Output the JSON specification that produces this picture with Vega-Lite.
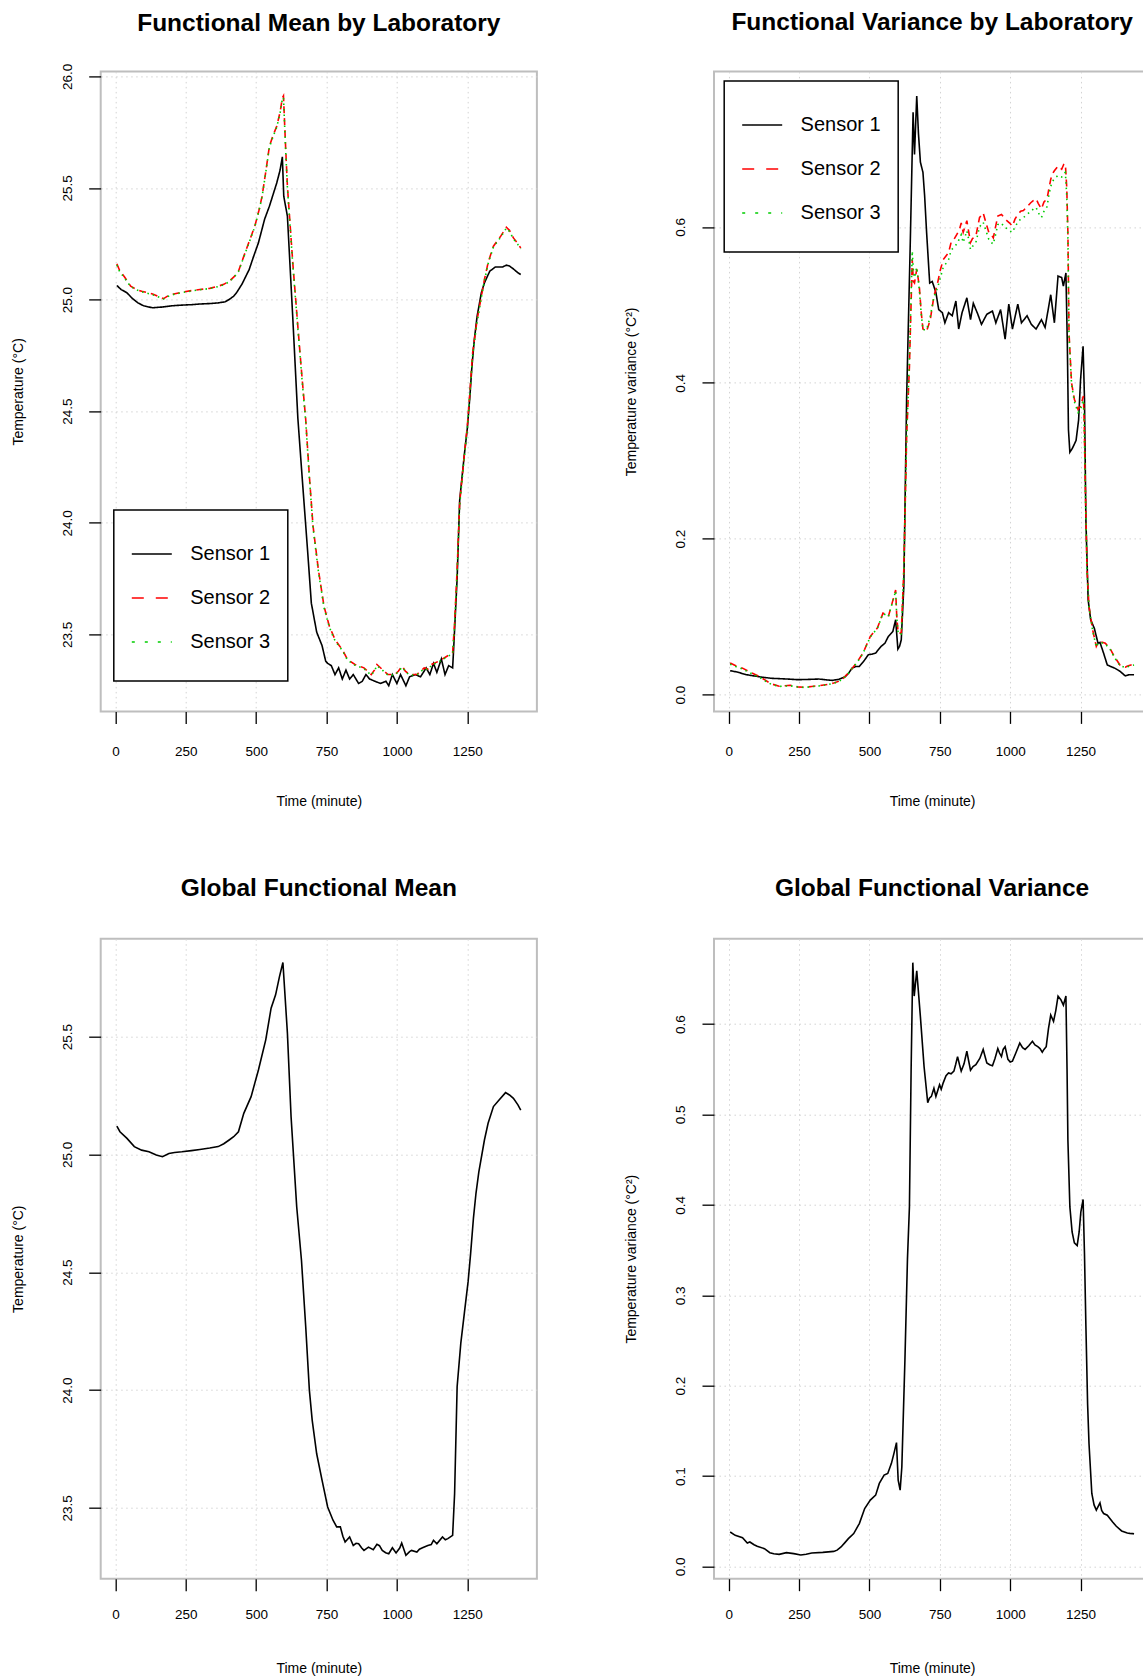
{
  "$schema": "https://vega.github.io/schema/vega-lite/v6.json",
  "padding": {"left": 9.7, "top": 8.4, "right": 0, "bottom": 0},
  "background": "white",
  "config": {
    "font": "Liberation Sans",
    "view": {"stroke": "#bebebe", "strokeWidth": 2},
    "line": {"strokeWidth": 1.6},
    "title": {"font": "Liberation Sans", "fontSize": 24.5, "fontWeight": "bold", "color": "black", "anchor": "middle", "frame": "group", "baseline": "alphabetic"},
    "axis": {"domain": false, "tickColor": "black", "tickWidth": 1.3, "tickSize": 12, "labelFont": "Liberation Sans", "labelFontSize": 13.5, "labelColor": "black", "titleFont": "Liberation Sans", "titleFontSize": 14, "titleFontWeight": "normal", "titleColor": "black", "grid": true, "gridColor": "#d3d3d3", "gridDash": [1.5, 3.5], "gridWidth": 1, "labelFlush": false, "labelOverlap": false},
    "axisX": {"labelBaseline": "alphabetic", "labelPadding": 32.3, "titleX": 218.1, "titleY": 93.7, "titleBaseline": "alphabetic", "titleAlign": "center"},
    "axisY": {"labelAngle": 270, "labelAlign": "center", "labelBaseline": "alphabetic", "labelPadding": 17.2, "titleAngle": 270, "titleX": -78.2, "titleY": 320, "titleAlign": "center", "titleBaseline": "alphabetic"},
    "legend": {"strokeWidth": 1.5}
  },
  "datasets": {
    "lm": [
      {"minute":5,"value":25.063,"sensor":"Sensor 1"},{"minute":20,"value":25.045,"sensor":"Sensor 1"},{"minute":41,"value":25.03,"sensor":"Sensor 1"},{"minute":60,"value":25.005,"sensor":"Sensor 1"},{"minute":80,"value":24.985,"sensor":"Sensor 1"},{"minute":100,"value":24.972,"sensor":"Sensor 1"},{"minute":132,"value":24.963,"sensor":"Sensor 1"},{"minute":171,"value":24.967,"sensor":"Sensor 1"},{"minute":200,"value":24.972,"sensor":"Sensor 1"},{"minute":236,"value":24.975,"sensor":"Sensor 1"},{"minute":270,"value":24.977,"sensor":"Sensor 1"},{"minute":300,"value":24.98,"sensor":"Sensor 1"},{"minute":335,"value":24.982,"sensor":"Sensor 1"},{"minute":365,"value":24.985,"sensor":"Sensor 1"},{"minute":390,"value":24.99,"sensor":"Sensor 1"},{"minute":404,"value":25.0,"sensor":"Sensor 1"},{"minute":420,"value":25.015,"sensor":"Sensor 1"},{"minute":430,"value":25.03,"sensor":"Sensor 1"},{"minute":450,"value":25.07,"sensor":"Sensor 1"},{"minute":475,"value":25.134,"sensor":"Sensor 1"},{"minute":490,"value":25.19,"sensor":"Sensor 1"},{"minute":508,"value":25.254,"sensor":"Sensor 1"},{"minute":530,"value":25.36,"sensor":"Sensor 1"},{"minute":547,"value":25.418,"sensor":"Sensor 1"},{"minute":560,"value":25.47,"sensor":"Sensor 1"},{"minute":573,"value":25.522,"sensor":"Sensor 1"},{"minute":585,"value":25.58,"sensor":"Sensor 1"},{"minute":593,"value":25.639,"sensor":"Sensor 1"},{"minute":598,"value":25.463,"sensor":"Sensor 1"},{"minute":611,"value":25.373,"sensor":"Sensor 1"},{"minute":630,"value":24.92,"sensor":"Sensor 1"},{"minute":648,"value":24.47,"sensor":"Sensor 1"},{"minute":663,"value":24.21,"sensor":"Sensor 1"},{"minute":683,"value":23.87,"sensor":"Sensor 1"},{"minute":696,"value":23.64,"sensor":"Sensor 1"},{"minute":715,"value":23.51,"sensor":"Sensor 1"},{"minute":734,"value":23.45,"sensor":"Sensor 1"},{"minute":747,"value":23.38,"sensor":"Sensor 1"},{"minute":754,"value":23.37,"sensor":"Sensor 1"},{"minute":767,"value":23.36,"sensor":"Sensor 1"},{"minute":780,"value":23.32,"sensor":"Sensor 1"},{"minute":793,"value":23.35,"sensor":"Sensor 1"},{"minute":806,"value":23.3,"sensor":"Sensor 1"},{"minute":819,"value":23.34,"sensor":"Sensor 1"},{"minute":832,"value":23.3,"sensor":"Sensor 1"},{"minute":845,"value":23.32,"sensor":"Sensor 1"},{"minute":864,"value":23.28,"sensor":"Sensor 1"},{"minute":877,"value":23.29,"sensor":"Sensor 1"},{"minute":890,"value":23.32,"sensor":"Sensor 1"},{"minute":903,"value":23.3,"sensor":"Sensor 1"},{"minute":922,"value":23.29,"sensor":"Sensor 1"},{"minute":942,"value":23.28,"sensor":"Sensor 1"},{"minute":961,"value":23.29,"sensor":"Sensor 1"},{"minute":971,"value":23.27,"sensor":"Sensor 1"},{"minute":984,"value":23.32,"sensor":"Sensor 1"},{"minute":1000,"value":23.28,"sensor":"Sensor 1"},{"minute":1013,"value":23.32,"sensor":"Sensor 1"},{"minute":1032,"value":23.27,"sensor":"Sensor 1"},{"minute":1045,"value":23.31,"sensor":"Sensor 1"},{"minute":1065,"value":23.32,"sensor":"Sensor 1"},{"minute":1084,"value":23.31,"sensor":"Sensor 1"},{"minute":1104,"value":23.35,"sensor":"Sensor 1"},{"minute":1117,"value":23.32,"sensor":"Sensor 1"},{"minute":1130,"value":23.37,"sensor":"Sensor 1"},{"minute":1142,"value":23.33,"sensor":"Sensor 1"},{"minute":1158,"value":23.39,"sensor":"Sensor 1"},{"minute":1171,"value":23.32,"sensor":"Sensor 1"},{"minute":1184,"value":23.36,"sensor":"Sensor 1"},{"minute":1198,"value":23.35,"sensor":"Sensor 1"},{"minute":1201,"value":23.42,"sensor":"Sensor 1"},{"minute":1214,"value":23.75,"sensor":"Sensor 1"},{"minute":1223,"value":24.1,"sensor":"Sensor 1"},{"minute":1240,"value":24.31,"sensor":"Sensor 1"},{"minute":1250,"value":24.42,"sensor":"Sensor 1"},{"minute":1259,"value":24.56,"sensor":"Sensor 1"},{"minute":1266,"value":24.69,"sensor":"Sensor 1"},{"minute":1275,"value":24.82,"sensor":"Sensor 1"},{"minute":1285,"value":24.925,"sensor":"Sensor 1"},{"minute":1300,"value":25.03,"sensor":"Sensor 1"},{"minute":1311,"value":25.075,"sensor":"Sensor 1"},{"minute":1330,"value":25.127,"sensor":"Sensor 1"},{"minute":1350,"value":25.146,"sensor":"Sensor 1"},{"minute":1376,"value":25.146,"sensor":"Sensor 1"},{"minute":1389,"value":25.154,"sensor":"Sensor 1"},{"minute":1400,"value":25.15,"sensor":"Sensor 1"},{"minute":1414,"value":25.137,"sensor":"Sensor 1"},{"minute":1430,"value":25.12,"sensor":"Sensor 1"},{"minute":1440,"value":25.112,"sensor":"Sensor 1"},
      {"minute":5,"value":25.16,"sensor":"Sensor 2"},{"minute":15,"value":25.13,"sensor":"Sensor 2"},{"minute":33,"value":25.1,"sensor":"Sensor 2"},{"minute":54,"value":25.06,"sensor":"Sensor 2"},{"minute":75,"value":25.045,"sensor":"Sensor 2"},{"minute":93,"value":25.037,"sensor":"Sensor 2"},{"minute":132,"value":25.025,"sensor":"Sensor 2"},{"minute":150,"value":25.015,"sensor":"Sensor 2"},{"minute":171,"value":25.004,"sensor":"Sensor 2"},{"minute":185,"value":25.015,"sensor":"Sensor 2"},{"minute":197,"value":25.022,"sensor":"Sensor 2"},{"minute":236,"value":25.033,"sensor":"Sensor 2"},{"minute":270,"value":25.04,"sensor":"Sensor 2"},{"minute":300,"value":25.045,"sensor":"Sensor 2"},{"minute":335,"value":25.05,"sensor":"Sensor 2"},{"minute":365,"value":25.06,"sensor":"Sensor 2"},{"minute":385,"value":25.068,"sensor":"Sensor 2"},{"minute":404,"value":25.082,"sensor":"Sensor 2"},{"minute":420,"value":25.1,"sensor":"Sensor 2"},{"minute":437,"value":25.127,"sensor":"Sensor 2"},{"minute":455,"value":25.19,"sensor":"Sensor 2"},{"minute":469,"value":25.239,"sensor":"Sensor 2"},{"minute":495,"value":25.328,"sensor":"Sensor 2"},{"minute":510,"value":25.4,"sensor":"Sensor 2"},{"minute":521,"value":25.463,"sensor":"Sensor 2"},{"minute":535,"value":25.58,"sensor":"Sensor 2"},{"minute":547,"value":25.687,"sensor":"Sensor 2"},{"minute":560,"value":25.735,"sensor":"Sensor 2"},{"minute":573,"value":25.776,"sensor":"Sensor 2"},{"minute":585,"value":25.84,"sensor":"Sensor 2"},{"minute":593,"value":25.903,"sensor":"Sensor 2"},{"minute":597,"value":25.912,"sensor":"Sensor 2"},{"minute":604,"value":25.7,"sensor":"Sensor 2"},{"minute":611,"value":25.507,"sensor":"Sensor 2"},{"minute":631,"value":25.149,"sensor":"Sensor 2"},{"minute":650,"value":24.85,"sensor":"Sensor 2"},{"minute":663,"value":24.65,"sensor":"Sensor 2"},{"minute":676,"value":24.463,"sensor":"Sensor 2"},{"minute":689,"value":24.21,"sensor":"Sensor 2"},{"minute":702,"value":23.986,"sensor":"Sensor 2"},{"minute":721,"value":23.79,"sensor":"Sensor 2"},{"minute":741,"value":23.626,"sensor":"Sensor 2"},{"minute":760,"value":23.537,"sensor":"Sensor 2"},{"minute":780,"value":23.477,"sensor":"Sensor 2"},{"minute":795,"value":23.45,"sensor":"Sensor 2"},{"minute":806,"value":23.432,"sensor":"Sensor 2"},{"minute":825,"value":23.387,"sensor":"Sensor 2"},{"minute":851,"value":23.365,"sensor":"Sensor 2"},{"minute":883,"value":23.35,"sensor":"Sensor 2"},{"minute":900,"value":23.33,"sensor":"Sensor 2"},{"minute":909,"value":23.32,"sensor":"Sensor 2"},{"minute":920,"value":23.34,"sensor":"Sensor 2"},{"minute":929,"value":23.365,"sensor":"Sensor 2"},{"minute":948,"value":23.343,"sensor":"Sensor 2"},{"minute":968,"value":23.32,"sensor":"Sensor 2"},{"minute":993,"value":23.32,"sensor":"Sensor 2"},{"minute":1005,"value":23.335,"sensor":"Sensor 2"},{"minute":1019,"value":23.358,"sensor":"Sensor 2"},{"minute":1030,"value":23.335,"sensor":"Sensor 2"},{"minute":1045,"value":23.32,"sensor":"Sensor 2"},{"minute":1071,"value":23.32,"sensor":"Sensor 2"},{"minute":1097,"value":23.35,"sensor":"Sensor 2"},{"minute":1110,"value":23.345,"sensor":"Sensor 2"},{"minute":1123,"value":23.365,"sensor":"Sensor 2"},{"minute":1149,"value":23.38,"sensor":"Sensor 2"},{"minute":1175,"value":23.4,"sensor":"Sensor 2"},{"minute":1198,"value":23.417,"sensor":"Sensor 2"},{"minute":1205,"value":23.55,"sensor":"Sensor 2"},{"minute":1214,"value":23.79,"sensor":"Sensor 2"},{"minute":1223,"value":24.09,"sensor":"Sensor 2"},{"minute":1240,"value":24.31,"sensor":"Sensor 2"},{"minute":1250,"value":24.43,"sensor":"Sensor 2"},{"minute":1259,"value":24.58,"sensor":"Sensor 2"},{"minute":1269,"value":24.76,"sensor":"Sensor 2"},{"minute":1285,"value":24.91,"sensor":"Sensor 2"},{"minute":1298,"value":25.0,"sensor":"Sensor 2"},{"minute":1311,"value":25.09,"sensor":"Sensor 2"},{"minute":1325,"value":25.17,"sensor":"Sensor 2"},{"minute":1343,"value":25.239,"sensor":"Sensor 2"},{"minute":1369,"value":25.284,"sensor":"Sensor 2"},{"minute":1389,"value":25.324,"sensor":"Sensor 2"},{"minute":1400,"value":25.31,"sensor":"Sensor 2"},{"minute":1414,"value":25.276,"sensor":"Sensor 2"},{"minute":1430,"value":25.25,"sensor":"Sensor 2"},{"minute":1440,"value":25.231,"sensor":"Sensor 2"},
      {"minute":5,"value":25.155,"sensor":"Sensor 3"},{"minute":15,"value":25.125,"sensor":"Sensor 3"},{"minute":33,"value":25.095,"sensor":"Sensor 3"},{"minute":54,"value":25.058,"sensor":"Sensor 3"},{"minute":75,"value":25.043,"sensor":"Sensor 3"},{"minute":93,"value":25.035,"sensor":"Sensor 3"},{"minute":132,"value":25.022,"sensor":"Sensor 3"},{"minute":150,"value":25.013,"sensor":"Sensor 3"},{"minute":171,"value":25.003,"sensor":"Sensor 3"},{"minute":185,"value":25.013,"sensor":"Sensor 3"},{"minute":197,"value":25.02,"sensor":"Sensor 3"},{"minute":236,"value":25.031,"sensor":"Sensor 3"},{"minute":270,"value":25.038,"sensor":"Sensor 3"},{"minute":300,"value":25.044,"sensor":"Sensor 3"},{"minute":335,"value":25.049,"sensor":"Sensor 3"},{"minute":365,"value":25.058,"sensor":"Sensor 3"},{"minute":385,"value":25.066,"sensor":"Sensor 3"},{"minute":404,"value":25.08,"sensor":"Sensor 3"},{"minute":420,"value":25.098,"sensor":"Sensor 3"},{"minute":437,"value":25.125,"sensor":"Sensor 3"},{"minute":455,"value":25.187,"sensor":"Sensor 3"},{"minute":469,"value":25.235,"sensor":"Sensor 3"},{"minute":495,"value":25.325,"sensor":"Sensor 3"},{"minute":510,"value":25.398,"sensor":"Sensor 3"},{"minute":521,"value":25.46,"sensor":"Sensor 3"},{"minute":535,"value":25.577,"sensor":"Sensor 3"},{"minute":547,"value":25.683,"sensor":"Sensor 3"},{"minute":560,"value":25.73,"sensor":"Sensor 3"},{"minute":573,"value":25.772,"sensor":"Sensor 3"},{"minute":585,"value":25.835,"sensor":"Sensor 3"},{"minute":593,"value":25.898,"sensor":"Sensor 3"},{"minute":597,"value":25.905,"sensor":"Sensor 3"},{"minute":604,"value":25.69,"sensor":"Sensor 3"},{"minute":611,"value":25.5,"sensor":"Sensor 3"},{"minute":631,"value":25.14,"sensor":"Sensor 3"},{"minute":650,"value":24.84,"sensor":"Sensor 3"},{"minute":663,"value":24.64,"sensor":"Sensor 3"},{"minute":676,"value":24.455,"sensor":"Sensor 3"},{"minute":689,"value":24.2,"sensor":"Sensor 3"},{"minute":702,"value":23.978,"sensor":"Sensor 3"},{"minute":721,"value":23.783,"sensor":"Sensor 3"},{"minute":741,"value":23.62,"sensor":"Sensor 3"},{"minute":760,"value":23.532,"sensor":"Sensor 3"},{"minute":780,"value":23.472,"sensor":"Sensor 3"},{"minute":795,"value":23.446,"sensor":"Sensor 3"},{"minute":806,"value":23.428,"sensor":"Sensor 3"},{"minute":825,"value":23.384,"sensor":"Sensor 3"},{"minute":851,"value":23.362,"sensor":"Sensor 3"},{"minute":883,"value":23.347,"sensor":"Sensor 3"},{"minute":900,"value":23.327,"sensor":"Sensor 3"},{"minute":909,"value":23.318,"sensor":"Sensor 3"},{"minute":920,"value":23.336,"sensor":"Sensor 3"},{"minute":929,"value":23.36,"sensor":"Sensor 3"},{"minute":948,"value":23.34,"sensor":"Sensor 3"},{"minute":968,"value":23.318,"sensor":"Sensor 3"},{"minute":993,"value":23.318,"sensor":"Sensor 3"},{"minute":1005,"value":23.333,"sensor":"Sensor 3"},{"minute":1019,"value":23.354,"sensor":"Sensor 3"},{"minute":1030,"value":23.333,"sensor":"Sensor 3"},{"minute":1045,"value":23.318,"sensor":"Sensor 3"},{"minute":1071,"value":23.318,"sensor":"Sensor 3"},{"minute":1097,"value":23.347,"sensor":"Sensor 3"},{"minute":1110,"value":23.342,"sensor":"Sensor 3"},{"minute":1123,"value":23.362,"sensor":"Sensor 3"},{"minute":1149,"value":23.377,"sensor":"Sensor 3"},{"minute":1175,"value":23.397,"sensor":"Sensor 3"},{"minute":1198,"value":23.414,"sensor":"Sensor 3"},{"minute":1205,"value":23.54,"sensor":"Sensor 3"},{"minute":1214,"value":23.78,"sensor":"Sensor 3"},{"minute":1223,"value":24.08,"sensor":"Sensor 3"},{"minute":1240,"value":24.3,"sensor":"Sensor 3"},{"minute":1250,"value":24.42,"sensor":"Sensor 3"},{"minute":1259,"value":24.57,"sensor":"Sensor 3"},{"minute":1269,"value":24.75,"sensor":"Sensor 3"},{"minute":1285,"value":24.9,"sensor":"Sensor 3"},{"minute":1298,"value":24.995,"sensor":"Sensor 3"},{"minute":1311,"value":25.085,"sensor":"Sensor 3"},{"minute":1325,"value":25.165,"sensor":"Sensor 3"},{"minute":1343,"value":25.235,"sensor":"Sensor 3"},{"minute":1369,"value":25.28,"sensor":"Sensor 3"},{"minute":1389,"value":25.32,"sensor":"Sensor 3"},{"minute":1400,"value":25.305,"sensor":"Sensor 3"},{"minute":1414,"value":25.272,"sensor":"Sensor 3"},{"minute":1430,"value":25.246,"sensor":"Sensor 3"},{"minute":1440,"value":25.227,"sensor":"Sensor 3"}
    ],
    "lv": [
      {"minute":5,"value":0.0307,"sensor":"Sensor 1"},{"minute":30,"value":0.029,"sensor":"Sensor 1"},{"minute":62,"value":0.0256,"sensor":"Sensor 1"},{"minute":90,"value":0.024,"sensor":"Sensor 1"},{"minute":114,"value":0.0226,"sensor":"Sensor 1"},{"minute":150,"value":0.021,"sensor":"Sensor 1"},{"minute":179,"value":0.0205,"sensor":"Sensor 1"},{"minute":210,"value":0.02,"sensor":"Sensor 1"},{"minute":244,"value":0.0192,"sensor":"Sensor 1"},{"minute":280,"value":0.0195,"sensor":"Sensor 1"},{"minute":321,"value":0.02,"sensor":"Sensor 1"},{"minute":345,"value":0.019,"sensor":"Sensor 1"},{"minute":367,"value":0.0183,"sensor":"Sensor 1"},{"minute":390,"value":0.0195,"sensor":"Sensor 1"},{"minute":412,"value":0.0226,"sensor":"Sensor 1"},{"minute":425,"value":0.027,"sensor":"Sensor 1"},{"minute":438,"value":0.034,"sensor":"Sensor 1"},{"minute":451,"value":0.036,"sensor":"Sensor 1"},{"minute":464,"value":0.0362,"sensor":"Sensor 1"},{"minute":480,"value":0.043,"sensor":"Sensor 1"},{"minute":496,"value":0.0512,"sensor":"Sensor 1"},{"minute":510,"value":0.052,"sensor":"Sensor 1"},{"minute":522,"value":0.0533,"sensor":"Sensor 1"},{"minute":541,"value":0.0618,"sensor":"Sensor 1"},{"minute":555,"value":0.066,"sensor":"Sensor 1"},{"minute":567,"value":0.0746,"sensor":"Sensor 1"},{"minute":583,"value":0.081,"sensor":"Sensor 1"},{"minute":593,"value":0.096,"sensor":"Sensor 1"},{"minute":601,"value":0.0584,"sensor":"Sensor 1"},{"minute":607,"value":0.062,"sensor":"Sensor 1"},{"minute":613,"value":0.0704,"sensor":"Sensor 1"},{"minute":622,"value":0.1386,"sensor":"Sensor 1"},{"minute":632,"value":0.38,"sensor":"Sensor 1"},{"minute":645,"value":0.58,"sensor":"Sensor 1"},{"minute":655,"value":0.747,"sensor":"Sensor 1"},{"minute":660,"value":0.693,"sensor":"Sensor 1"},{"minute":668,"value":0.768,"sensor":"Sensor 1"},{"minute":674,"value":0.72,"sensor":"Sensor 1"},{"minute":681,"value":0.683,"sensor":"Sensor 1"},{"minute":690,"value":0.67,"sensor":"Sensor 1"},{"minute":696,"value":0.64,"sensor":"Sensor 1"},{"minute":703,"value":0.593,"sensor":"Sensor 1"},{"minute":714,"value":0.528,"sensor":"Sensor 1"},{"minute":723,"value":0.53,"sensor":"Sensor 1"},{"minute":736,"value":0.516,"sensor":"Sensor 1"},{"minute":746,"value":0.494,"sensor":"Sensor 1"},{"minute":759,"value":0.49,"sensor":"Sensor 1"},{"minute":768,"value":0.477,"sensor":"Sensor 1"},{"minute":781,"value":0.49,"sensor":"Sensor 1"},{"minute":794,"value":0.486,"sensor":"Sensor 1"},{"minute":807,"value":0.505,"sensor":"Sensor 1"},{"minute":817,"value":0.469,"sensor":"Sensor 1"},{"minute":829,"value":0.49,"sensor":"Sensor 1"},{"minute":846,"value":0.509,"sensor":"Sensor 1"},{"minute":859,"value":0.481,"sensor":"Sensor 1"},{"minute":869,"value":0.502,"sensor":"Sensor 1"},{"minute":885,"value":0.488,"sensor":"Sensor 1"},{"minute":898,"value":0.475,"sensor":"Sensor 1"},{"minute":917,"value":0.488,"sensor":"Sensor 1"},{"minute":937,"value":0.492,"sensor":"Sensor 1"},{"minute":949,"value":0.477,"sensor":"Sensor 1"},{"minute":966,"value":0.494,"sensor":"Sensor 1"},{"minute":982,"value":0.456,"sensor":"Sensor 1"},{"minute":995,"value":0.501,"sensor":"Sensor 1"},{"minute":1008,"value":0.469,"sensor":"Sensor 1"},{"minute":1027,"value":0.501,"sensor":"Sensor 1"},{"minute":1040,"value":0.477,"sensor":"Sensor 1"},{"minute":1060,"value":0.486,"sensor":"Sensor 1"},{"minute":1075,"value":0.475,"sensor":"Sensor 1"},{"minute":1092,"value":0.469,"sensor":"Sensor 1"},{"minute":1111,"value":0.481,"sensor":"Sensor 1"},{"minute":1124,"value":0.471,"sensor":"Sensor 1"},{"minute":1144,"value":0.513,"sensor":"Sensor 1"},{"minute":1157,"value":0.477,"sensor":"Sensor 1"},{"minute":1170,"value":0.537,"sensor":"Sensor 1"},{"minute":1183,"value":0.535,"sensor":"Sensor 1"},{"minute":1189,"value":0.524,"sensor":"Sensor 1"},{"minute":1198,"value":0.541,"sensor":"Sensor 1"},{"minute":1203,"value":0.45,"sensor":"Sensor 1"},{"minute":1207,"value":0.34,"sensor":"Sensor 1"},{"minute":1212,"value":0.311,"sensor":"Sensor 1"},{"minute":1221,"value":0.316,"sensor":"Sensor 1"},{"minute":1234,"value":0.326,"sensor":"Sensor 1"},{"minute":1243,"value":0.352,"sensor":"Sensor 1"},{"minute":1250,"value":0.404,"sensor":"Sensor 1"},{"minute":1259,"value":0.447,"sensor":"Sensor 1"},{"minute":1264,"value":0.379,"sensor":"Sensor 1"},{"minute":1269,"value":0.224,"sensor":"Sensor 1"},{"minute":1277,"value":0.1215,"sensor":"Sensor 1"},{"minute":1286,"value":0.096,"sensor":"Sensor 1"},{"minute":1299,"value":0.085,"sensor":"Sensor 1"},{"minute":1312,"value":0.066,"sensor":"Sensor 1"},{"minute":1319,"value":0.067,"sensor":"Sensor 1"},{"minute":1332,"value":0.053,"sensor":"Sensor 1"},{"minute":1345,"value":0.038,"sensor":"Sensor 1"},{"minute":1371,"value":0.034,"sensor":"Sensor 1"},{"minute":1390,"value":0.03,"sensor":"Sensor 1"},{"minute":1409,"value":0.024,"sensor":"Sensor 1"},{"minute":1422,"value":0.0256,"sensor":"Sensor 1"},{"minute":1440,"value":0.0256,"sensor":"Sensor 1"},
      {"minute":5,"value":0.0405,"sensor":"Sensor 2"},{"minute":25,"value":0.037,"sensor":"Sensor 2"},{"minute":49,"value":0.034,"sensor":"Sensor 2"},{"minute":70,"value":0.03,"sensor":"Sensor 2"},{"minute":88,"value":0.0269,"sensor":"Sensor 2"},{"minute":110,"value":0.023,"sensor":"Sensor 2"},{"minute":127,"value":0.0192,"sensor":"Sensor 2"},{"minute":150,"value":0.014,"sensor":"Sensor 2"},{"minute":179,"value":0.0107,"sensor":"Sensor 2"},{"minute":200,"value":0.0115,"sensor":"Sensor 2"},{"minute":218,"value":0.012,"sensor":"Sensor 2"},{"minute":245,"value":0.01,"sensor":"Sensor 2"},{"minute":269,"value":0.0094,"sensor":"Sensor 2"},{"minute":295,"value":0.0105,"sensor":"Sensor 2"},{"minute":321,"value":0.0115,"sensor":"Sensor 2"},{"minute":350,"value":0.013,"sensor":"Sensor 2"},{"minute":373,"value":0.0149,"sensor":"Sensor 2"},{"minute":390,"value":0.017,"sensor":"Sensor 2"},{"minute":405,"value":0.02,"sensor":"Sensor 2"},{"minute":425,"value":0.028,"sensor":"Sensor 2"},{"minute":444,"value":0.0362,"sensor":"Sensor 2"},{"minute":460,"value":0.044,"sensor":"Sensor 2"},{"minute":477,"value":0.0533,"sensor":"Sensor 2"},{"minute":490,"value":0.064,"sensor":"Sensor 2"},{"minute":503,"value":0.0746,"sensor":"Sensor 2"},{"minute":515,"value":0.08,"sensor":"Sensor 2"},{"minute":528,"value":0.0853,"sensor":"Sensor 2"},{"minute":538,"value":0.095,"sensor":"Sensor 2"},{"minute":548,"value":0.1045,"sensor":"Sensor 2"},{"minute":557,"value":0.103,"sensor":"Sensor 2"},{"minute":567,"value":0.1002,"sensor":"Sensor 2"},{"minute":577,"value":0.113,"sensor":"Sensor 2"},{"minute":587,"value":0.1258,"sensor":"Sensor 2"},{"minute":593,"value":0.1343,"sensor":"Sensor 2"},{"minute":597,"value":0.1,"sensor":"Sensor 2"},{"minute":602,"value":0.0789,"sensor":"Sensor 2"},{"minute":613,"value":0.0789,"sensor":"Sensor 2"},{"minute":622,"value":0.16,"sensor":"Sensor 2"},{"minute":632,"value":0.33,"sensor":"Sensor 2"},{"minute":642,"value":0.421,"sensor":"Sensor 2"},{"minute":652,"value":0.558,"sensor":"Sensor 2"},{"minute":656,"value":0.53,"sensor":"Sensor 2"},{"minute":660,"value":0.528,"sensor":"Sensor 2"},{"minute":668,"value":0.546,"sensor":"Sensor 2"},{"minute":677,"value":0.524,"sensor":"Sensor 2"},{"minute":684,"value":0.49,"sensor":"Sensor 2"},{"minute":690,"value":0.469,"sensor":"Sensor 2"},{"minute":703,"value":0.466,"sensor":"Sensor 2"},{"minute":716,"value":0.481,"sensor":"Sensor 2"},{"minute":729,"value":0.511,"sensor":"Sensor 2"},{"minute":742,"value":0.528,"sensor":"Sensor 2"},{"minute":752,"value":0.545,"sensor":"Sensor 2"},{"minute":762,"value":0.558,"sensor":"Sensor 2"},{"minute":781,"value":0.567,"sensor":"Sensor 2"},{"minute":790,"value":0.58,"sensor":"Sensor 2"},{"minute":800,"value":0.584,"sensor":"Sensor 2"},{"minute":810,"value":0.59,"sensor":"Sensor 2"},{"minute":820,"value":0.597,"sensor":"Sensor 2"},{"minute":826,"value":0.605,"sensor":"Sensor 2"},{"minute":833,"value":0.593,"sensor":"Sensor 2"},{"minute":846,"value":0.608,"sensor":"Sensor 2"},{"minute":852,"value":0.595,"sensor":"Sensor 2"},{"minute":859,"value":0.58,"sensor":"Sensor 2"},{"minute":866,"value":0.585,"sensor":"Sensor 2"},{"minute":878,"value":0.588,"sensor":"Sensor 2"},{"minute":891,"value":0.612,"sensor":"Sensor 2"},{"minute":904,"value":0.618,"sensor":"Sensor 2"},{"minute":914,"value":0.605,"sensor":"Sensor 2"},{"minute":924,"value":0.593,"sensor":"Sensor 2"},{"minute":933,"value":0.59,"sensor":"Sensor 2"},{"minute":940,"value":0.586,"sensor":"Sensor 2"},{"minute":948,"value":0.6,"sensor":"Sensor 2"},{"minute":956,"value":0.614,"sensor":"Sensor 2"},{"minute":969,"value":0.616,"sensor":"Sensor 2"},{"minute":978,"value":0.612,"sensor":"Sensor 2"},{"minute":988,"value":0.608,"sensor":"Sensor 2"},{"minute":998,"value":0.605,"sensor":"Sensor 2"},{"minute":1008,"value":0.601,"sensor":"Sensor 2"},{"minute":1017,"value":0.61,"sensor":"Sensor 2"},{"minute":1027,"value":0.616,"sensor":"Sensor 2"},{"minute":1037,"value":0.62,"sensor":"Sensor 2"},{"minute":1047,"value":0.621,"sensor":"Sensor 2"},{"minute":1060,"value":0.626,"sensor":"Sensor 2"},{"minute":1073,"value":0.631,"sensor":"Sensor 2"},{"minute":1083,"value":0.634,"sensor":"Sensor 2"},{"minute":1092,"value":0.636,"sensor":"Sensor 2"},{"minute":1100,"value":0.63,"sensor":"Sensor 2"},{"minute":1111,"value":0.623,"sensor":"Sensor 2"},{"minute":1120,"value":0.632,"sensor":"Sensor 2"},{"minute":1131,"value":0.636,"sensor":"Sensor 2"},{"minute":1137,"value":0.648,"sensor":"Sensor 2"},{"minute":1144,"value":0.661,"sensor":"Sensor 2"},{"minute":1150,"value":0.668,"sensor":"Sensor 2"},{"minute":1157,"value":0.672,"sensor":"Sensor 2"},{"minute":1170,"value":0.678,"sensor":"Sensor 2"},{"minute":1183,"value":0.674,"sensor":"Sensor 2"},{"minute":1190,"value":0.68,"sensor":"Sensor 2"},{"minute":1196,"value":0.681,"sensor":"Sensor 2"},{"minute":1201,"value":0.65,"sensor":"Sensor 2"},{"minute":1205,"value":0.593,"sensor":"Sensor 2"},{"minute":1209,"value":0.464,"sensor":"Sensor 2"},{"minute":1218,"value":0.4,"sensor":"Sensor 2"},{"minute":1228,"value":0.379,"sensor":"Sensor 2"},{"minute":1241,"value":0.366,"sensor":"Sensor 2"},{"minute":1250,"value":0.37,"sensor":"Sensor 2"},{"minute":1260,"value":0.383,"sensor":"Sensor 2"},{"minute":1263,"value":0.35,"sensor":"Sensor 2"},{"minute":1267,"value":0.2665,"sensor":"Sensor 2"},{"minute":1273,"value":0.16,"sensor":"Sensor 2"},{"minute":1280,"value":0.113,"sensor":"Sensor 2"},{"minute":1293,"value":0.083,"sensor":"Sensor 2"},{"minute":1306,"value":0.0618,"sensor":"Sensor 2"},{"minute":1312,"value":0.066,"sensor":"Sensor 2"},{"minute":1319,"value":0.068,"sensor":"Sensor 2"},{"minute":1330,"value":0.067,"sensor":"Sensor 2"},{"minute":1338,"value":0.066,"sensor":"Sensor 2"},{"minute":1357,"value":0.0576,"sensor":"Sensor 2"},{"minute":1370,"value":0.049,"sensor":"Sensor 2"},{"minute":1390,"value":0.038,"sensor":"Sensor 2"},{"minute":1409,"value":0.0354,"sensor":"Sensor 2"},{"minute":1420,"value":0.037,"sensor":"Sensor 2"},{"minute":1429,"value":0.038,"sensor":"Sensor 2"},{"minute":1440,"value":0.039,"sensor":"Sensor 2"},
      {"minute":5,"value":0.039,"sensor":"Sensor 3"},{"minute":25,"value":0.036,"sensor":"Sensor 3"},{"minute":49,"value":0.033,"sensor":"Sensor 3"},{"minute":70,"value":0.029,"sensor":"Sensor 3"},{"minute":88,"value":0.026,"sensor":"Sensor 3"},{"minute":110,"value":0.022,"sensor":"Sensor 3"},{"minute":127,"value":0.018,"sensor":"Sensor 3"},{"minute":150,"value":0.0135,"sensor":"Sensor 3"},{"minute":179,"value":0.0105,"sensor":"Sensor 3"},{"minute":200,"value":0.011,"sensor":"Sensor 3"},{"minute":218,"value":0.0115,"sensor":"Sensor 3"},{"minute":245,"value":0.0098,"sensor":"Sensor 3"},{"minute":269,"value":0.0092,"sensor":"Sensor 3"},{"minute":295,"value":0.0102,"sensor":"Sensor 3"},{"minute":321,"value":0.0112,"sensor":"Sensor 3"},{"minute":350,"value":0.0128,"sensor":"Sensor 3"},{"minute":373,"value":0.0146,"sensor":"Sensor 3"},{"minute":390,"value":0.0168,"sensor":"Sensor 3"},{"minute":405,"value":0.0198,"sensor":"Sensor 3"},{"minute":425,"value":0.0275,"sensor":"Sensor 3"},{"minute":444,"value":0.0358,"sensor":"Sensor 3"},{"minute":460,"value":0.0435,"sensor":"Sensor 3"},{"minute":477,"value":0.053,"sensor":"Sensor 3"},{"minute":490,"value":0.0635,"sensor":"Sensor 3"},{"minute":503,"value":0.074,"sensor":"Sensor 3"},{"minute":515,"value":0.0795,"sensor":"Sensor 3"},{"minute":528,"value":0.085,"sensor":"Sensor 3"},{"minute":538,"value":0.0945,"sensor":"Sensor 3"},{"minute":548,"value":0.104,"sensor":"Sensor 3"},{"minute":557,"value":0.1025,"sensor":"Sensor 3"},{"minute":567,"value":0.1,"sensor":"Sensor 3"},{"minute":577,"value":0.1125,"sensor":"Sensor 3"},{"minute":587,"value":0.125,"sensor":"Sensor 3"},{"minute":593,"value":0.133,"sensor":"Sensor 3"},{"minute":597,"value":0.099,"sensor":"Sensor 3"},{"minute":602,"value":0.078,"sensor":"Sensor 3"},{"minute":613,"value":0.078,"sensor":"Sensor 3"},{"minute":622,"value":0.158,"sensor":"Sensor 3"},{"minute":632,"value":0.33,"sensor":"Sensor 3"},{"minute":642,"value":0.43,"sensor":"Sensor 3"},{"minute":652,"value":0.569,"sensor":"Sensor 3"},{"minute":656,"value":0.545,"sensor":"Sensor 3"},{"minute":660,"value":0.535,"sensor":"Sensor 3"},{"minute":668,"value":0.548,"sensor":"Sensor 3"},{"minute":677,"value":0.52,"sensor":"Sensor 3"},{"minute":684,"value":0.488,"sensor":"Sensor 3"},{"minute":690,"value":0.468,"sensor":"Sensor 3"},{"minute":703,"value":0.468,"sensor":"Sensor 3"},{"minute":716,"value":0.485,"sensor":"Sensor 3"},{"minute":729,"value":0.51,"sensor":"Sensor 3"},{"minute":742,"value":0.522,"sensor":"Sensor 3"},{"minute":752,"value":0.535,"sensor":"Sensor 3"},{"minute":762,"value":0.548,"sensor":"Sensor 3"},{"minute":781,"value":0.558,"sensor":"Sensor 3"},{"minute":790,"value":0.57,"sensor":"Sensor 3"},{"minute":800,"value":0.574,"sensor":"Sensor 3"},{"minute":810,"value":0.578,"sensor":"Sensor 3"},{"minute":820,"value":0.585,"sensor":"Sensor 3"},{"minute":826,"value":0.59,"sensor":"Sensor 3"},{"minute":833,"value":0.58,"sensor":"Sensor 3"},{"minute":846,"value":0.595,"sensor":"Sensor 3"},{"minute":852,"value":0.585,"sensor":"Sensor 3"},{"minute":859,"value":0.571,"sensor":"Sensor 3"},{"minute":866,"value":0.575,"sensor":"Sensor 3"},{"minute":878,"value":0.58,"sensor":"Sensor 3"},{"minute":891,"value":0.6,"sensor":"Sensor 3"},{"minute":904,"value":0.606,"sensor":"Sensor 3"},{"minute":914,"value":0.595,"sensor":"Sensor 3"},{"minute":924,"value":0.584,"sensor":"Sensor 3"},{"minute":933,"value":0.58,"sensor":"Sensor 3"},{"minute":940,"value":0.578,"sensor":"Sensor 3"},{"minute":948,"value":0.59,"sensor":"Sensor 3"},{"minute":956,"value":0.603,"sensor":"Sensor 3"},{"minute":969,"value":0.605,"sensor":"Sensor 3"},{"minute":978,"value":0.6,"sensor":"Sensor 3"},{"minute":988,"value":0.598,"sensor":"Sensor 3"},{"minute":998,"value":0.595,"sensor":"Sensor 3"},{"minute":1008,"value":0.593,"sensor":"Sensor 3"},{"minute":1017,"value":0.6,"sensor":"Sensor 3"},{"minute":1027,"value":0.606,"sensor":"Sensor 3"},{"minute":1037,"value":0.61,"sensor":"Sensor 3"},{"minute":1047,"value":0.612,"sensor":"Sensor 3"},{"minute":1060,"value":0.616,"sensor":"Sensor 3"},{"minute":1073,"value":0.62,"sensor":"Sensor 3"},{"minute":1083,"value":0.623,"sensor":"Sensor 3"},{"minute":1092,"value":0.625,"sensor":"Sensor 3"},{"minute":1100,"value":0.618,"sensor":"Sensor 3"},{"minute":1111,"value":0.612,"sensor":"Sensor 3"},{"minute":1120,"value":0.62,"sensor":"Sensor 3"},{"minute":1131,"value":0.626,"sensor":"Sensor 3"},{"minute":1137,"value":0.64,"sensor":"Sensor 3"},{"minute":1144,"value":0.652,"sensor":"Sensor 3"},{"minute":1150,"value":0.658,"sensor":"Sensor 3"},{"minute":1157,"value":0.662,"sensor":"Sensor 3"},{"minute":1170,"value":0.666,"sensor":"Sensor 3"},{"minute":1183,"value":0.664,"sensor":"Sensor 3"},{"minute":1190,"value":0.668,"sensor":"Sensor 3"},{"minute":1196,"value":0.67,"sensor":"Sensor 3"},{"minute":1201,"value":0.64,"sensor":"Sensor 3"},{"minute":1205,"value":0.585,"sensor":"Sensor 3"},{"minute":1209,"value":0.46,"sensor":"Sensor 3"},{"minute":1218,"value":0.398,"sensor":"Sensor 3"},{"minute":1228,"value":0.376,"sensor":"Sensor 3"},{"minute":1241,"value":0.362,"sensor":"Sensor 3"},{"minute":1250,"value":0.366,"sensor":"Sensor 3"},{"minute":1260,"value":0.378,"sensor":"Sensor 3"},{"minute":1263,"value":0.345,"sensor":"Sensor 3"},{"minute":1267,"value":0.262,"sensor":"Sensor 3"},{"minute":1273,"value":0.158,"sensor":"Sensor 3"},{"minute":1280,"value":0.112,"sensor":"Sensor 3"},{"minute":1293,"value":0.082,"sensor":"Sensor 3"},{"minute":1306,"value":0.061,"sensor":"Sensor 3"},{"minute":1312,"value":0.065,"sensor":"Sensor 3"},{"minute":1319,"value":0.067,"sensor":"Sensor 3"},{"minute":1330,"value":0.066,"sensor":"Sensor 3"},{"minute":1338,"value":0.065,"sensor":"Sensor 3"},{"minute":1357,"value":0.057,"sensor":"Sensor 3"},{"minute":1370,"value":0.048,"sensor":"Sensor 3"},{"minute":1390,"value":0.037,"sensor":"Sensor 3"},{"minute":1409,"value":0.0348,"sensor":"Sensor 3"},{"minute":1420,"value":0.0362,"sensor":"Sensor 3"},{"minute":1429,"value":0.0372,"sensor":"Sensor 3"},{"minute":1440,"value":0.038,"sensor":"Sensor 3"}
    ],
    "gm": [
      {"minute":5,"value":25.12},{"minute":16,"value":25.096},{"minute":41,"value":25.068},{"minute":67,"value":25.033},{"minute":93,"value":25.018},{"minute":119,"value":25.011},{"minute":145,"value":24.997},{"minute":167,"value":24.99},{"minute":190,"value":25.004},{"minute":210,"value":25.008},{"minute":236,"value":25.011},{"minute":270,"value":25.016},{"minute":300,"value":25.021},{"minute":335,"value":25.027},{"minute":365,"value":25.033},{"minute":385,"value":25.045},{"minute":404,"value":25.061},{"minute":420,"value":25.075},{"minute":437,"value":25.096},{"minute":456,"value":25.174},{"minute":482,"value":25.245},{"minute":508,"value":25.358},{"minute":534,"value":25.486},{"minute":553,"value":25.62},{"minute":569,"value":25.677},{"minute":583,"value":25.755},{"minute":595,"value":25.814},{"minute":611,"value":25.514},{"minute":624,"value":25.16},{"minute":644,"value":24.778},{"minute":661,"value":24.55},{"minute":676,"value":24.27},{"minute":689,"value":24.0},{"minute":699,"value":23.873},{"minute":715,"value":23.73},{"minute":734,"value":23.618},{"minute":754,"value":23.504},{"minute":773,"value":23.448},{"minute":786,"value":23.42},{"minute":799,"value":23.42},{"minute":808,"value":23.38},{"minute":816,"value":23.356},{"minute":832,"value":23.377},{"minute":845,"value":23.341},{"minute":855,"value":23.35},{"minute":864,"value":23.348},{"minute":875,"value":23.33},{"minute":883,"value":23.32},{"minute":899,"value":23.334},{"minute":916,"value":23.323},{"minute":929,"value":23.346},{"minute":938,"value":23.34},{"minute":948,"value":23.32},{"minute":960,"value":23.31},{"minute":971,"value":23.306},{"minute":984,"value":23.331},{"minute":997,"value":23.309},{"minute":1010,"value":23.33},{"minute":1017,"value":23.351},{"minute":1032,"value":23.299},{"minute":1045,"value":23.315},{"minute":1052,"value":23.32},{"minute":1071,"value":23.313},{"minute":1080,"value":23.325},{"minute":1091,"value":23.331},{"minute":1110,"value":23.341},{"minute":1122,"value":23.345},{"minute":1130,"value":23.363},{"minute":1142,"value":23.348},{"minute":1162,"value":23.377},{"minute":1172,"value":23.365},{"minute":1181,"value":23.37},{"minute":1198,"value":23.384},{"minute":1205,"value":23.56},{"minute":1214,"value":24.014},{"minute":1227,"value":24.198},{"minute":1240,"value":24.33},{"minute":1253,"value":24.46},{"minute":1262,"value":24.58},{"minute":1272,"value":24.73},{"minute":1281,"value":24.835},{"minute":1291,"value":24.925},{"minute":1311,"value":25.061},{"minute":1324,"value":25.132},{"minute":1343,"value":25.203},{"minute":1363,"value":25.231},{"minute":1386,"value":25.262},{"minute":1400,"value":25.252},{"minute":1414,"value":25.238},{"minute":1430,"value":25.21},{"minute":1440,"value":25.188}
    ],
    "gv": [
      {"minute":5,"value":0.0381},{"minute":23,"value":0.0344},{"minute":49,"value":0.0318},{"minute":66,"value":0.0259},{"minute":75,"value":0.027},{"minute":90,"value":0.024},{"minute":101,"value":0.0222},{"minute":127,"value":0.0196},{"minute":146,"value":0.0152},{"minute":160,"value":0.014},{"minute":179,"value":0.0133},{"minute":205,"value":0.0152},{"minute":231,"value":0.0141},{"minute":256,"value":0.0126},{"minute":275,"value":0.0135},{"minute":295,"value":0.0148},{"minute":334,"value":0.0155},{"minute":373,"value":0.0166},{"minute":385,"value":0.018},{"minute":399,"value":0.0215},{"minute":412,"value":0.026},{"minute":425,"value":0.0307},{"minute":444,"value":0.0363},{"minute":464,"value":0.0474},{"minute":483,"value":0.064},{"minute":503,"value":0.0733},{"minute":522,"value":0.0788},{"minute":535,"value":0.0918},{"minute":552,"value":0.101},{"minute":565,"value":0.1028},{"minute":578,"value":0.114},{"minute":587,"value":0.125},{"minute":596,"value":0.137},{"minute":602,"value":0.0954},{"minute":609,"value":0.0844},{"minute":615,"value":0.11},{"minute":626,"value":0.2286},{"minute":635,"value":0.34},{"minute":642,"value":0.398},{"minute":648,"value":0.55},{"minute":654,"value":0.668},{"minute":659,"value":0.631},{"minute":668,"value":0.659},{"minute":681,"value":0.608},{"minute":694,"value":0.553},{"minute":707,"value":0.513},{"minute":713,"value":0.518},{"minute":720,"value":0.52},{"minute":729,"value":0.529},{"minute":736,"value":0.52},{"minute":749,"value":0.533},{"minute":755,"value":0.528},{"minute":762,"value":0.535},{"minute":772,"value":0.543},{"minute":781,"value":0.546},{"minute":790,"value":0.545},{"minute":800,"value":0.548},{"minute":806,"value":0.555},{"minute":813,"value":0.564},{"minute":820,"value":0.555},{"minute":826,"value":0.548},{"minute":836,"value":0.556},{"minute":846,"value":0.57},{"minute":852,"value":0.56},{"minute":859,"value":0.549},{"minute":868,"value":0.553},{"minute":878,"value":0.555},{"minute":892,"value":0.562},{"minute":904,"value":0.572},{"minute":910,"value":0.565},{"minute":917,"value":0.557},{"minute":927,"value":0.555},{"minute":937,"value":0.554},{"minute":946,"value":0.562},{"minute":956,"value":0.573},{"minute":962,"value":0.568},{"minute":969,"value":0.564},{"minute":975,"value":0.572},{"minute":982,"value":0.575},{"minute":992,"value":0.561},{"minute":1000,"value":0.558},{"minute":1008,"value":0.559},{"minute":1020,"value":0.568},{"minute":1034,"value":0.579},{"minute":1044,"value":0.574},{"minute":1053,"value":0.572},{"minute":1066,"value":0.576},{"minute":1079,"value":0.581},{"minute":1088,"value":0.577},{"minute":1098,"value":0.575},{"minute":1106,"value":0.573},{"minute":1114,"value":0.569},{"minute":1120,"value":0.572},{"minute":1128,"value":0.575},{"minute":1136,"value":0.595},{"minute":1144,"value":0.61},{"minute":1154,"value":0.603},{"minute":1162,"value":0.615},{"minute":1170,"value":0.631},{"minute":1180,"value":0.627},{"minute":1189,"value":0.621},{"minute":1198,"value":0.631},{"minute":1202,"value":0.55},{"minute":1205,"value":0.472},{"minute":1212,"value":0.398},{"minute":1220,"value":0.37},{"minute":1228,"value":0.358},{"minute":1238,"value":0.355},{"minute":1245,"value":0.37},{"minute":1251,"value":0.392},{"minute":1259,"value":0.406},{"minute":1264,"value":0.345},{"minute":1269,"value":0.2656},{"minute":1275,"value":0.18},{"minute":1280,"value":0.136},{"minute":1290,"value":0.0807},{"minute":1298,"value":0.068},{"minute":1306,"value":0.0622},{"minute":1319,"value":0.0703},{"minute":1325,"value":0.062},{"minute":1332,"value":0.0585},{"minute":1345,"value":0.0566},{"minute":1364,"value":0.0492},{"minute":1377,"value":0.0444},{"minute":1396,"value":0.0392},{"minute":1416,"value":0.037},{"minute":1425,"value":0.0365},{"minute":1435,"value":0.0363},{"minute":1440,"value":0.036}
    ]
  },
  "columns": 2,
  "spacing": {"row": 227.3, "column": 176.3},
  "bounds": "flush",
  "concat": [
    {
      "width": 436.2, "height": 640,
      "title": {"text": "Functional Mean by Laboratory", "offset": 26.8},
      "data": {"name": "lm"},
      "resolve": {"scale": {"color": "independent", "strokeDash": "independent"}},
      "encoding": {
        "x": {"field": "minute", "type": "quantitative", "scale": {"domain": [-52.4, 1497.4], "nice": false, "zero": false}, "axis": {"values": [0, 250, 500, 750, 1000, 1250], "format": "d", "title": "Time (minute)"}},
        "y": {"field": "value", "type": "quantitative", "scale": {"domain": [23.155, 26.022], "nice": false, "zero": false}, "axis": {"values": [23.5, 24.0, 24.5, 25.0, 25.5, 26.0], "format": ".1f", "title": "Temperature (°C)"}}
      },
      "layer": [
        {
          "mark": {"type": "line", "strokeWidth": 1.6},
          "encoding": {
            "color": {"field": "sensor", "type": "nominal", "scale": {"domain": ["Sensor 1", "Sensor 2", "Sensor 3"], "range": ["#000000", "#ff0000", "#00cd00"]}, "legend": null},
            "strokeDash": {"field": "sensor", "type": "nominal", "scale": {"domain": ["Sensor 1", "Sensor 2", "Sensor 3"], "range": [[1, 0], [7, 5], [1.5, 4]]}, "legend": null}
          }
        },
        {
          "mark": {"type": "line", "strokeWidth": 2.7, "opacity": 0},
          "encoding": {
            "color": {"field": "sensor", "type": "nominal", "scale": {"domain": ["Sensor 1", "Sensor 2", "Sensor 3"], "range": ["#000000", "#ff0000", "#00cd00"]},
              "legend": {"title": " ", "titleFontSize": 1, "titlePadding": 4, "orient": "none", "legendX": 13.1, "legendY": 438.6, "symbolType": "stroke", "symbolSize": 1600, "symbolStrokeWidth": 2.7, "symbolOpacity": 1, "labelFont": "Liberation Sans", "labelFontSize": 20, "labelColor": "black", "labelOffset": 17.4, "strokeColor": "black", "fillColor": "white", "padding": 17, "clipHeight": 44, "rowPadding": 0, "direction": "vertical"}},
            "strokeDash": {"field": "sensor", "type": "nominal", "scale": {"domain": ["Sensor 1", "Sensor 2", "Sensor 3"], "range": [[1, 0], [12, 12], [3, 10]]},
              "legend": {"title": " ", "titleFontSize": 1, "titlePadding": 4, "orient": "none", "legendX": 13.1, "legendY": 438.6, "symbolType": "stroke", "symbolSize": 1600, "symbolStrokeWidth": 2.7, "symbolOpacity": 1, "labelFont": "Liberation Sans", "labelFontSize": 20, "labelColor": "black", "labelOffset": 17.4, "strokeColor": "black", "fillColor": "white", "padding": 17, "clipHeight": 44, "rowPadding": 0, "direction": "vertical"}}
          }
        }
      ]
    },
    {
      "width": 436.2, "height": 640,
      "title": {"text": "Functional Variance by Laboratory", "offset": 36.2},
      "data": {"name": "lv"},
      "resolve": {"scale": {"color": "independent", "strokeDash": "independent"}},
      "encoding": {
        "x": {"field": "minute", "type": "quantitative", "scale": {"domain": [-52.4, 1497.4], "nice": false, "zero": false}, "axis": {"values": [0, 250, 500, 750, 1000, 1250], "format": "d", "title": "Time (minute)"}},
        "y": {"field": "value", "type": "quantitative", "scale": {"domain": [-0.0215, 0.7995], "nice": false, "zero": false}, "axis": {"values": [0.0, 0.2, 0.4, 0.6], "format": ".1f", "title": "Temperature variance (°C²)"}}
      },
      "layer": [
        {
          "mark": {"type": "line", "strokeWidth": 1.6},
          "encoding": {
            "color": {"field": "sensor", "type": "nominal", "scale": {"domain": ["Sensor 1", "Sensor 2", "Sensor 3"], "range": ["#000000", "#ff0000", "#00cd00"]}, "legend": null},
            "strokeDash": {"field": "sensor", "type": "nominal", "scale": {"domain": ["Sensor 1", "Sensor 2", "Sensor 3"], "range": [[1, 0], [7, 5], [1.5, 4]]}, "legend": null}
          }
        },
        {
          "mark": {"type": "line", "strokeWidth": 2.7, "opacity": 0},
          "encoding": {
            "color": {"field": "sensor", "type": "nominal", "scale": {"domain": ["Sensor 1", "Sensor 2", "Sensor 3"], "range": ["#000000", "#ff0000", "#00cd00"]},
              "legend": {"title": " ", "titleFontSize": 1, "titlePadding": 4, "orient": "none", "legendX": 10.2, "legendY": 9.6, "symbolType": "stroke", "symbolSize": 1600, "symbolStrokeWidth": 2.7, "symbolOpacity": 1, "labelFont": "Liberation Sans", "labelFontSize": 20, "labelColor": "black", "labelOffset": 17.4, "strokeColor": "black", "fillColor": "white", "padding": 17, "clipHeight": 44, "rowPadding": 0, "direction": "vertical"}},
            "strokeDash": {"field": "sensor", "type": "nominal", "scale": {"domain": ["Sensor 1", "Sensor 2", "Sensor 3"], "range": [[1, 0], [12, 12], [3, 10]]},
              "legend": {"title": " ", "titleFontSize": 1, "titlePadding": 4, "orient": "none", "legendX": 10.2, "legendY": 9.6, "symbolType": "stroke", "symbolSize": 1600, "symbolStrokeWidth": 2.7, "symbolOpacity": 1, "labelFont": "Liberation Sans", "labelFontSize": 20, "labelColor": "black", "labelOffset": 17.4, "strokeColor": "black", "fillColor": "white", "padding": 17, "clipHeight": 44, "rowPadding": 0, "direction": "vertical"}}
          }
        }
      ]
    },
    {
      "width": 436.2, "height": 640,
      "title": {"text": "Global Functional Mean", "offset": 36.7},
      "data": {"name": "gm"},
      "mark": {"type": "line", "strokeWidth": 1.6, "color": "black"},
      "encoding": {
        "x": {"field": "minute", "type": "quantitative", "scale": {"domain": [-52.4, 1497.4], "nice": false, "zero": false}, "axis": {"values": [0, 250, 500, 750, 1000, 1250], "format": "d", "title": "Time (minute)", "labelPadding": 27.5}},
        "y": {"field": "value", "type": "quantitative", "scale": {"domain": [23.2, 25.915], "nice": false, "zero": false}, "axis": {"values": [23.5, 24.0, 24.5, 25.0, 25.5], "format": ".1f", "title": "Temperature (°C)"}}
      }
    },
    {
      "width": 436.2, "height": 640,
      "title": {"text": "Global Functional Variance", "offset": 36.7},
      "data": {"name": "gv"},
      "mark": {"type": "line", "strokeWidth": 1.6, "color": "black"},
      "encoding": {
        "x": {"field": "minute", "type": "quantitative", "scale": {"domain": [-52.4, 1497.4], "nice": false, "zero": false}, "axis": {"values": [0, 250, 500, 750, 1000, 1250], "format": "d", "title": "Time (minute)", "labelPadding": 27.5}},
        "y": {"field": "value", "type": "quantitative", "scale": {"domain": [-0.0136, 0.6945], "nice": false, "zero": false}, "axis": {"values": [0.0, 0.1, 0.2, 0.3, 0.4, 0.5, 0.6], "format": ".1f", "title": "Temperature variance (°C²)"}}
      }
    }
  ]
}
